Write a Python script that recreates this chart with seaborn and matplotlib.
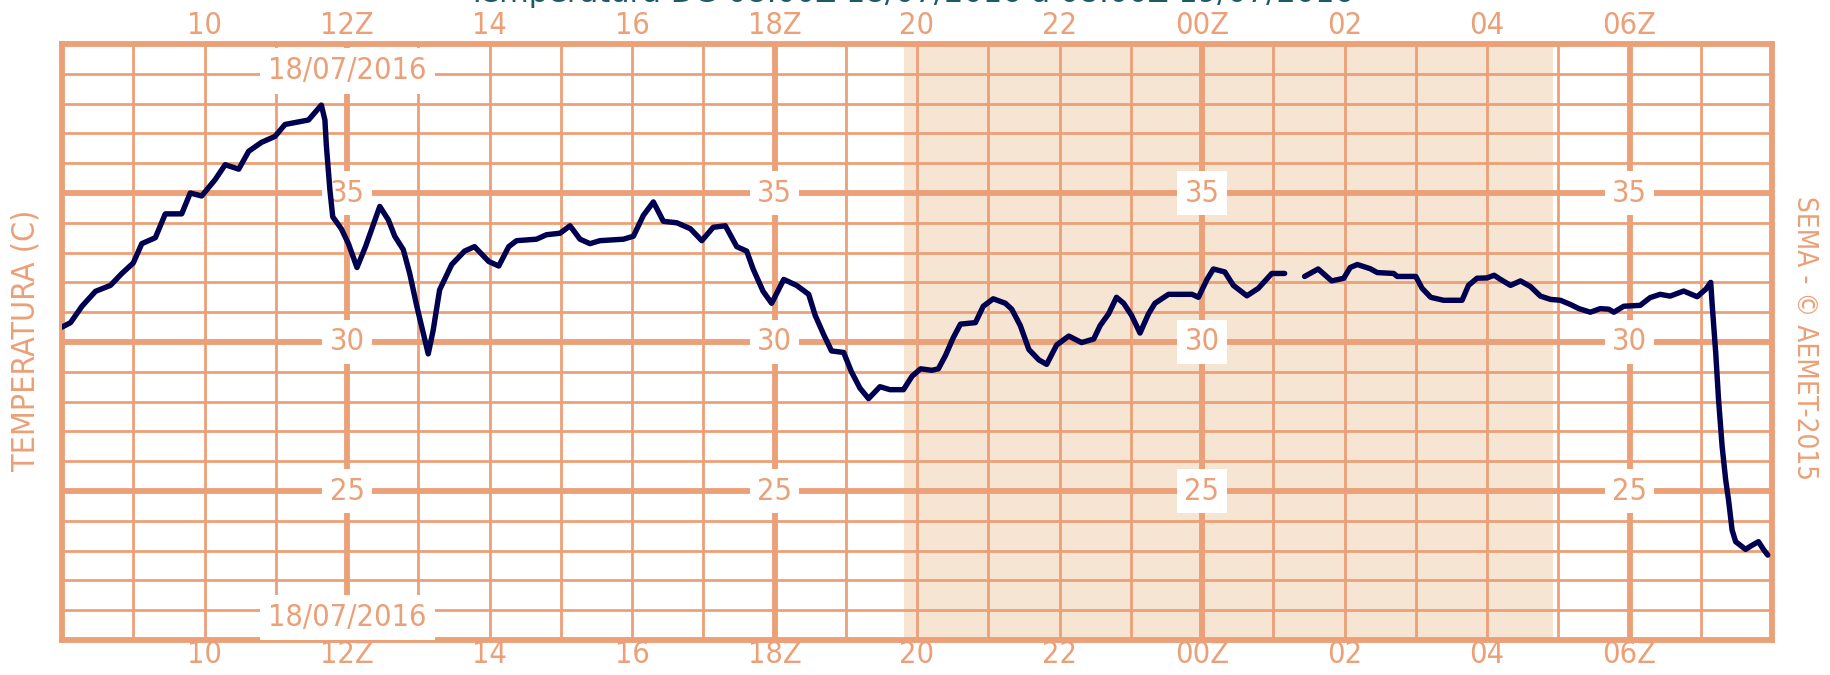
import numpy as np
import pandas as pd
import seaborn as sns
import matplotlib
matplotlib.use("Agg")
import matplotlib.pyplot as plt
from matplotlib import font_manager

# hours since 00Z 18/07/2016 and temperature (C)
hours_a = [8.0, 8.12, 8.28, 8.47, 8.68, 8.84, 9.0, 9.12, 9.31, 9.45, 9.68, 9.8, 9.96,
           10.15, 10.29, 10.48, 10.62, 10.8, 10.99, 11.13, 11.46, 11.64, 11.69, 11.71,
           11.76, 11.8, 11.92, 12.02, 12.14, 12.26, 12.46, 12.58, 12.67, 12.79, 12.88,
           12.98, 13.09, 13.14, 13.21, 13.3, 13.47, 13.65, 13.79, 13.99, 14.13, 14.27,
           14.38, 14.66, 14.8, 14.99, 15.13, 15.27, 15.41, 15.55, 15.88, 16.02, 16.16,
           16.3, 16.44, 16.63, 16.82, 16.98, 17.14, 17.31, 17.47, 17.61, 17.7, 17.84,
           17.96, 18.13, 18.31, 18.48, 18.57, 18.69, 18.8, 18.97, 19.08, 19.2, 19.32,
           19.48, 19.62, 19.81, 19.93, 20.05, 20.21, 20.3, 20.4, 20.51, 20.61, 20.82,
           20.93, 21.07, 21.24, 21.33, 21.45, 21.57, 21.71, 21.82, 21.96, 22.13, 22.31,
           22.48, 22.57, 22.69, 22.8, 22.9, 23.01, 23.13, 23.25, 23.34, 23.53, 23.86,
           23.95, 24.07, 24.16, 24.32, 24.44, 24.63, 24.79, 24.98, 25.16]
temp_a = [30.5, 30.65, 31.2, 31.7, 31.9, 32.3, 32.65, 33.3, 33.5, 34.3, 34.3, 35.0, 34.9,
          35.45, 35.95, 35.8, 36.4, 36.7, 36.9, 37.3, 37.45, 37.95, 37.45, 36.6,
          35.1, 34.2, 33.8, 33.3, 32.5, 33.2, 34.55, 34.1, 33.55, 33.1, 32.3,
          31.2, 30.1, 29.6, 30.4, 31.75, 32.6, 33.05, 33.2, 32.7, 32.55, 33.2,
          33.4, 33.45, 33.6, 33.65, 33.9, 33.45, 33.3, 33.4, 33.45, 33.55, 34.25,
          34.7, 34.05, 34.0, 33.8, 33.4, 33.85, 33.9, 33.2, 33.05, 32.45, 31.7,
          31.3, 32.1, 31.9, 31.6, 30.9, 30.25, 29.7, 29.65, 29.0, 28.45, 28.1,
          28.5, 28.4, 28.4, 28.85, 29.1, 29.05, 29.1, 29.55, 30.15, 30.6, 30.65,
          31.2, 31.45, 31.3, 31.1, 30.55, 29.75, 29.4, 29.25, 29.9, 30.2, 29.98,
          30.1, 30.55, 30.95, 31.5, 31.3, 30.9, 30.3, 30.95, 31.3, 31.6, 31.6,
          31.5, 32.1, 32.45, 32.35, 31.9, 31.55, 31.8, 32.3, 32.3]

hours_b = [25.44, 25.63, 25.82, 25.99, 26.08, 26.18, 26.36, 26.46, 26.69, 26.74, 27.0,
           27.09, 27.21, 27.39, 27.65, 27.74, 27.86, 28.0, 28.1, 28.19, 28.33, 28.47,
           28.61, 28.75, 28.89, 29.03, 29.17, 29.29, 29.45, 29.59, 29.71, 29.78, 29.92,
           30.15, 30.29, 30.43, 30.57, 30.76, 30.95, 31.07, 31.14, 31.16, 31.21, 31.25,
           31.3, 31.35, 31.39, 31.44, 31.49, 31.63, 31.7, 31.81, 31.88, 31.94]
temp_b = [32.2, 32.45, 32.05, 32.14, 32.5, 32.6, 32.46, 32.33, 32.3, 32.2, 32.2,
          31.8, 31.5, 31.4, 31.4, 31.9, 32.14, 32.15, 32.24, 32.1, 31.9, 32.05,
          31.86, 31.54, 31.43, 31.4, 31.26, 31.12, 31.0, 31.12, 31.1, 31.0, 31.2,
          31.23, 31.49, 31.6, 31.54, 31.71, 31.52, 31.77, 32.0, 31.26, 29.64, 28.06,
          26.5, 25.37, 24.7, 23.69, 23.3, 23.04, 23.15, 23.3, 23.04, 22.85]

tick_hours = [10, 12, 14, 16, 18, 20, 22, 24, 26, 28, 30]
tick_labels = ["10", "12Z", "14", "16", "18Z", "20", "22", "00Z", "02", "04", "06Z"]
label_temps = [35, 30, 25]
label_hours = [12, 18, 24, 30]
night = (19.82, 28.93)

salmon = "#eba077"
night_col = "#f5e5d2"
line_col = "#000050"

# a narrow face if the box has one, like the original chart
fonts = font_manager.fontManager.ttflist
names = {f.name for f in fonts}
stretch = "normal"
if "Liberation Sans Narrow" in names:
    family, fs = "Liberation Sans Narrow", 23
elif any(f.name == "DejaVu Sans" and f.stretch == "condensed" for f in fonts):
    family, fs, stretch = "DejaVu Sans", 22, "condensed"
else:
    family, fs = "DejaVu Sans", 20

sns.set_style("white")
plt.rcParams["font.family"] = [family, "DejaVu Sans"]
plt.rcParams["font.stretch"] = stretch

fig = plt.figure(figsize=(18.31, 6.75), dpi=100)
ax = fig.add_axes([62 / 1831, 1 - 640 / 675, 1710 / 1831, 596 / 675])

ax.axvspan(night[0], night[1], color=night_col, lw=0, zorder=0.5)
for h in range(9, 32):
    ax.axvline(h, color=salmon, lw=4.2 if h % 6 == 0 else 2.0, zorder=1)
for t in range(21, 40):
    ax.axhline(t, color=salmon, lw=4.2 if t % 5 == 0 else 2.0, zorder=1)

seg_a = pd.DataFrame({"hora": hours_a, "temp": temp_a})
seg_b = pd.DataFrame({"hora": hours_b, "temp": temp_b})
for seg in (seg_a, seg_b):
    sns.lineplot(data=seg, x="hora", y="temp", color=line_col, lw=3.9,
                 ax=ax, zorder=5, estimator=None, sort=False)

for t in label_temps:
    for h in label_hours:
        ax.text(h, t, str(t), ha="center", va="center", color=salmon, fontsize=fs,
                zorder=4, bbox=dict(facecolor="white", edgecolor="none", pad=5))
for y in (39.1, 20.75):
    ax.text(12, y, "18/07/2016", ha="center", va="center", color=salmon, fontsize=fs,
            zorder=4, bbox=dict(facecolor="white", edgecolor="none", pad=6))

ax.set_xlim(8, 32)
ax.set_ylim(20, 40)
ax.set_xticks(tick_hours)
ax.set_xticklabels(tick_labels)
ax.set_yticks([])
ax.set_xlabel("")
ax.set_ylabel("")
ax.tick_params(axis="x", length=0, colors=salmon, labelsize=fs, pad=0)
for h, lab in zip(tick_hours, tick_labels):
    ax.text(h, 1.017, lab, transform=ax.get_xaxis_transform(), ha="center",
            va="baseline", color=salmon, fontsize=fs)
for s in ax.spines.values():
    s.set_color(salmon)
    s.set_linewidth(4.2)
    s.set_zorder(3.5)

fig.text(26 / 1831, 1 - 340 / 675, "TEMPERATURA (C)", rotation=90, ha="center",
         va="center", color=salmon, fontsize=fs + 1)
fig.text(1805 / 1831, 1 - 338 / 675, "SEMA - \u00a9 AEMET-2015", rotation=270,
         ha="center", va="center", color=salmon, fontsize=fs - 2)
# title sits mostly above the image edge, as in the original
fig.text(911 / 1831, 1 - 1.5 / 675, "Temperatura DG 08:00Z 18/07/2016 a 08:00Z 19/07/2016",
         ha="center", va="baseline", color="#1b5a66", fontsize=22, family="DejaVu Sans",
         stretch="normal")

fig.savefig("out.png", dpi=100)
